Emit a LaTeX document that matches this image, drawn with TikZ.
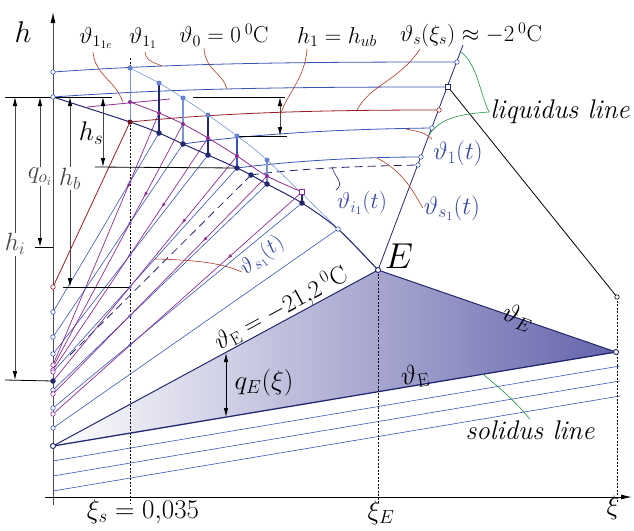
\RequirePackage{fix-cm}
\documentclass[tikz,border=0pt]{standalone}
\usepackage{amsmath,amssymb}
\usepackage{tikz}
\usetikzlibrary{arrows.meta,decorations.markings}
\definecolor{cblue}{RGB}{55,85,185}
\definecolor{clight}{RGB}{120,150,215}
\definecolor{cnavy}{RGB}{35,40,110}
\definecolor{cpurple}{RGB}{140,45,145}
\definecolor{cslate}{RGB}{105,90,170}
\definecolor{cred}{RGB}{155,30,35}
\definecolor{cbrown}{RGB}{175,60,35}
\definecolor{cgreen}{RGB}{30,150,70}
\definecolor{ctext}{RGB}{55,70,165}
\definecolor{cshade}{RGB}{100,100,172}
\tikzstyle{blueline} = [cblue, line width=0.6pt]
\tikzstyle{lightline} = [clight, line width=0.6pt]
\tikzstyle{navyline} = [cnavy, line width=1pt]
\tikzstyle{redline} = [cred, line width=0.8pt]
\tikzstyle{dashline} = [cnavy, line width=0.8pt, dash pattern=on 8pt off 5pt]
\tikzstyle{purline} = [cpurple, line width=0.7pt, postaction={decorate}, decoration={markings, mark=at position 0.3 with {\arrow{Latex[length=5pt,width=3.5pt]}}}]
\tikzstyle{dimline} = [gray!55!black, line width=0.8pt, {Latex[length=9pt,width=4.5pt,color=black]}-{Latex[length=9pt,width=4.5pt,color=black]}]
\tikzstyle{refline} = [black, line width=0.8pt]
\tikzstyle{guide} = [black, line width=0.5pt, dash pattern=on 2pt off 1.5pt]
\tikzstyle{leader} = [cbrown, line width=0.6pt]
\tikzstyle{gleader} = [cgreen, line width=0.6pt]
\tikzstyle{lbl} = [font=\fontsize{23}{26}\selectfont, inner sep=1pt]
\tikzstyle{biglbl} = [font=\fontsize{27}{30}\selectfont, inner sep=1pt]
\tikzstyle{dimlbl} = [font=\fontsize{25}{28}\selectfont, inner sep=1pt, fill=white]
\tikzstyle{txtlbl} = [font=\fontsize{27}{30}\selectfont\itshape, inner sep=1pt]
\tikzstyle{bluelbl} = [lbl, text=ctext]
\tikzstyle{ring} = [circle, draw=cblue, fill=white, inner sep=0pt, minimum size=4.5pt, line width=0.6pt]
\tikzstyle{redring} = [ring, draw=cred]
\tikzstyle{purring} = [ring, draw=cpurple]
\tikzstyle{navyring} = [ring, draw=cnavy, line width=0.9pt, minimum size=5pt]
\tikzstyle{blackring} = [ring, draw=black]
\tikzstyle{navydot} = [circle, fill=cnavy, inner sep=0pt, minimum size=5.5pt]
\tikzstyle{purdot} = [circle, fill=cpurple, inner sep=0pt, minimum size=4pt]
\tikzstyle{lightdot} = [circle, fill=clight!70!cblue, inner sep=0pt, minimum size=5pt]
\tikzstyle{slatedot} = [circle, fill=cslate, inner sep=0pt, minimum size=3.5pt]
\tikzstyle{sqmark} = [rectangle, draw=cnavy, fill=white, inner sep=0pt, minimum size=5pt, line width=0.9pt]
\begin{document}
\begin{tikzpicture}[x=1pt, y=-1pt]
\useasboundingbox (0,0) rectangle (634,530);
% points on the h axis
\coordinate (a1) at (53,72);
\coordinate (a0) at (53,97);
\coordinate (ar) at (53,287);
\coordinate (a2) at (53,312);
\coordinate (a3) at (53,337);
\coordinate (a4) at (53,354);
\coordinate (c1) at (53,365);
\coordinate (c1b) at (53,367);
\coordinate (c2) at (53,370);
\coordinate (c3) at (53,372);
\coordinate (ai) at (53,381);
\coordinate (a6) at (53,390);
\coordinate (a6p) at (53,394);
\coordinate (a7) at (53,408);
\coordinate (a7p) at (53,414);
\coordinate (a8) at (53,428);
\coordinate (s0) at (53,446);
% front points
\coordinate (L1) at (130,68);  \coordinate (P1) at (130,102); \coordinate (D1) at (130,122);
\coordinate (L2) at (159,83);  \coordinate (P2) at (159,113); \coordinate (D2) at (159,133);
\coordinate (L3) at (183,98);  \coordinate (P3) at (183,124); \coordinate (D3) at (183,144);
\coordinate (L4) at (208,115); \coordinate (P4) at (208,138); \coordinate (D4) at (208,155);
\coordinate (L5) at (237,136); \coordinate (P5) at (237,156); \coordinate (D5) at (237,168);
\coordinate (L6) at (267,160); \coordinate (P6) at (267,176); \coordinate (D6) at (267,184);
\coordinate (P7) at (302,192); \coordinate (D7) at (302,203);
\coordinate (K) at (251,175);
\coordinate (kd) at (68,357);
\coordinate (M) at (338,229);
\coordinate (E) at (378,270);
\coordinate (pa) at (87,107);
\coordinate (pb) at (170,99);
% liquidus line
\coordinate (T0) at (463,45);
\coordinate (T1) at (457,62);
\coordinate (T2) at (448,87);
\coordinate (T3) at (439,110);
\coordinate (T4) at (432,128);
\coordinate (T5) at (421,157);
\coordinate (T6) at (418,165);
\coordinate (R) at (617,297);
\coordinate (S) at (616,352);
% solidus and lines below
\coordinate (b1l) at (53,461); \coordinate (b1r) at (620,366);
\coordinate (b2l) at (53,476); \coordinate (b2r) at (620,381);
\coordinate (b3l) at (53,491); \coordinate (b3r) at (620,396);
% axes
\coordinate (hb) at (53,505); \coordinate (ht) at (53,12);
\coordinate (xl) at (45,497); \coordinate (xr) at (632,497);
\coordinate (g1t) at (130,58); \coordinate (g1b) at (130,503);
\coordinate (g2b) at (378,503);
\coordinate (g3b) at (617,503);
% marks on xi_s
\coordinate (x1) at (130,182); \coordinate (x2) at (130,223); \coordinate (x3) at (130,255);
\coordinate (x4) at (130,287); \coordinate (x5) at (130,316); \coordinate (x6) at (130,345);

% eutectic triangle
\shade[left color=white, right color=cshade] (s0) -- (E) -- (S) -- cycle;
\draw[blueline] (b1l) -- (b1r);
\draw[blueline] (b2l) -- (b2r);
\draw[blueline] (b3l) -- (b3r);
\draw[navyline] (s0) -- (E) -- (S);
\draw[navyline, line width=1.3pt] (s0) -- (S);

\draw[guide] (g1t) -- (g1b);
\draw[guide] (E) -- (g2b);
\draw[guide] (R) -- (g3b);
\draw[gray!60!black, line width=0.9pt, -{Latex[length=11pt,width=5pt,color=black]}] (hb) -- (ht);
\draw[black, line width=0.9pt, -{Latex[length=11pt,width=5pt]}] (xl) -- (xr);

% fan of characteristics
\draw[redline] (ar) -- (D1);
\draw[blueline] (a2) -- (D2);
\draw[blueline] (a3) -- (D3);
\draw[blueline] (a4) -- (D4);
\draw[blueline] (c3) -- (D5);
\draw[blueline] (a6) -- (D6);
\draw[blueline] (a7) -- (D7);
\draw[blueline] (a8) -- (M);
\draw[purline] (P2) -- (c1);
\draw[purline] (P3) -- (c1b);
\draw[purline] (P4) -- (c2);
\draw[purline] (P5) -- (ai);
\draw[purline] (P6) -- (a6p);
\draw[purline] (P7) -- (a7p);

% isotherms
\draw[blueline, line width=0.8pt] (a1) .. controls (180,63) and (300,62) .. (T1);
\draw[blueline, line width=0.8pt] (a0) .. controls (180,88) and (300,87) .. (T2);
\draw[redline] (D1) .. controls (230,112) and (330,110) .. (T3);
\draw[blueline, line width=0.8pt] (D3) .. controls (260,133) and (350,129) .. (T4);
\draw[blueline, line width=0.8pt] (D5) .. controls (300,160) and (370,157) .. (T5);
\draw[dashline] (K) .. controls (300,168) and (370,166) .. (T6);
\draw[dashline] (K) -- (kd);
\draw[navyline, line width=0.8pt] (T0) -- (E);
\draw[black, line width=0.8pt] (T2) -- (R);

% fronts
\draw[cpurple, line width=0.8pt] (pa) -- (pb);
\draw[lightline] plot[smooth] coordinates {(L1) (L2) (L3) (L4) (L5) (L6) (M) (E)};
\draw[cpurple, line width=0.8pt] plot[smooth] coordinates {(P1) (P2) (P3) (P4) (P5) (P6) (P7)};
\draw[navyline] plot[smooth, tension=0.5] coordinates {(a0) (D1) (D2) (D3) (D4) (D5) (K) (D6) (D7) (M) (E)};
\draw[clight, line width=1pt] (L1) -- (D1);
\draw[cnavy, line width=1.6pt] (L2) -- (D2);
\draw[clight, line width=1.2pt] (L3) -- (D3);
\draw[cnavy, line width=1.6pt] (L4) -- (D4);
\draw[cblue, line width=1.2pt] (L5) -- (D5);
\draw[clight, line width=1.2pt] (L6) -- (D6);
\draw[cnavy, line width=1.4pt] (P7) -- (D7);

% dimensions
\coordinate (dl0) at (5,97);  \coordinate (dl1) at (112,97);
\coordinate (dl2) at (5,380); \coordinate (dl3) at (35,247);
\coordinate (dl4) at (63,287); \coordinate (dl5) at (95,167);
\coordinate (dl6) at (193,97); \coordinate (dl7) at (285,97);
\coordinate (dl8) at (287,136);
\draw[refline] (dl0) -- (dl1);
\draw[refline] (dl2) -- (ai);
\draw[refline] (dl3) -- (53,247);
\draw[refline] (dl4) -- (x4);
\draw[refline] (dl5) -- (D5);
\draw[refline] (dl6) -- (dl7);
\draw[refline] (L5) -- (dl8);
\draw[dimline] (15,97) -- node[pos=0.52, dimlbl] {$h_i$} (15,380);
\draw[dimline] (40,97) -- node[pos=0.53, dimlbl] {$q_{o_i}$} (40,247);
\draw[dimline] (70,97) -- node[pos=0.43, dimlbl] {$h_b$} (70,287);
\draw[dimline] (103,97) -- (103,167);
\draw[dimline] (280,97) -- (280,136);
\draw[black, line width=0.8pt, {Latex[length=9pt,width=4.5pt]}-{Latex[length=9pt,width=4.5pt]}] (226,353) -- (226,417);

% markers
\foreach \p in {a1,a0,a2,a3,a4,a6,a7,a8,T1,T4,T5,T6,M}
  \node[ring] (m\p) at (\p) {};
\foreach \p in {c1,c2,c3,a6p,a7p}
  \node[purring] (m\p) at (\p) {};
\foreach \p in {ar,T3}
  \node[redring] (m\p) at (\p) {};
\foreach \p in {D2,D3,D4,D5,D6,D7,K,ai}
  \node[navydot] (m\p) at (\p) {};
\foreach \p in {P1,P2,P3,P4,P5,P6}
  \node[purdot] (m\p) at (\p) {};
\foreach \p in {L1,L2,L3,L4,L5,L6}
  \node[lightdot] (m\p) at (\p) {};
\foreach \p in {x1,x2,x3,x4,x5,x6}
  \node[slatedot] (m\p) at (\p) {};
\node[circle, fill=cred!70!black, inner sep=0pt, minimum size=5pt] (mD1) at (D1) {};
\node[sqmark, draw=cpurple] (mP7) at (P7) {};
\node[sqmark] (mT2) at (T2) {};
\node[navyring] (mE) at (E) {};
\node[navyring] (mS) at (S) {};
\node[navyring] (ms0) at (s0) {};
\node[blackring] (mR) at (R) {};

% labels
\node[lbl, font=\fontsize{30}{32}\selectfont] (hlab) at (23,32) {$h$};
\node[lbl] (l11e) at (96,38) {$\vartheta_{1_{1e}}$};
\node[lbl] (l11) at (143,38) {$\vartheta_{1_1}$};
\node[lbl] (l0) at (224,35) {$\vartheta_0=0\,{}^0\mathrm{C}$};
\node[lbl] (lh1) at (337,37) {$h_1=h_{ub}$};
\node[lbl] (ls) at (471,35) {$\vartheta_s(\xi_s)\approx-2\,{}^0\mathrm{C}$};
\node[txtlbl] (lliq) at (560,112) {liquidus line};
\node[bluelbl, font=\fontsize{25}{28}\selectfont] (lt1) at (458,153) {$\vartheta_1(t)$};
\node[bluelbl, font=\fontsize{25}{28}\selectfont] (lts) at (452,208) {$\vartheta_{s_1}(t)$};
\node[bluelbl] (lti) at (362,203) {$\vartheta_{i_1}(t)$};
\node[bluelbl, rotate=38, font=\fontsize{22}{24}\selectfont] (ltm) at (262,256) {$\vartheta_{s_1}(t)$};
\node[biglbl] (lhs) at (91,133) {$h_s$};
\node[lbl, font=\fontsize{36}{38}\selectfont] (Elab) at (399,256) {$E$};
\path (s0) -- node[pos=0.72, sloped, above, lbl, font=\fontsize{25}{28}\selectfont, inner sep=0pt] (leut) {$\vartheta_{\mathrm{E}}=-21{,}2\,{}^0\mathrm{C}$} (E);
\node[biglbl, rotate=-19] (lER) at (518,318) {$\vartheta_E$};
\node[biglbl, rotate=9] (lEL) at (415,376) {$\vartheta_{\mathrm{E}}$};
\node[biglbl] (lq) at (264,383) {$q_E(\xi)$};
\node[txtlbl] (lsol) at (530,430) {solidus line};
\node[biglbl] (lxs) at (143,512) {$\xi_s=0{,}035$};
\node[biglbl] (lxE) at (381,513) {$\xi_E$};
\node[biglbl] (lx) at (613,508) {$\xi$};

% leaders
\coordinate (tq1) at (123,102);
\coordinate (tq2) at (162,66);
\coordinate (tq3) at (227,89);
\coordinate (tq4) at (280,117);
\coordinate (tq5) at (357,110);
\coordinate (tq6) at (461,52);
\coordinate (tq7) at (429,135);
\coordinate (tq8) at (406,129);
\coordinate (tq9) at (377,158);
\coordinate (tq10) at (332,167);
\coordinate (tq11) at (155,259);
\coordinate (tq12) at (483,374);
\draw[leader] (93,52) .. controls (95,75) and (115,80) .. (tq1);
\draw[leader] (145,52) .. controls (147,60) .. (tq2);
\draw[leader] (204,48) .. controls (205,70) and (222,72) .. (tq3);
\draw[leader] (307,49) .. controls (305,80) and (285,95) .. (tq4);
\draw[leader] (420,49) .. controls (400,80) and (370,85) .. (tq5);
\draw[gleader] (tq6) .. controls (478,65) and (480,95) .. (lliq.west);
\draw[gleader] (tq7) .. controls (440,118) and (460,114) .. (lliq.west);
\draw[leader] (tq8) .. controls (425,133) .. (lt1.north west);
\draw[leader] (tq9) .. controls (400,170) and (410,185) .. (lts.west);
\draw[cnavy, line width=0.6pt] (tq10) .. controls (335,178) and (345,183) .. (lti.north west);
\draw[leader] (tq11) .. controls (200,260) and (225,264) .. (ltm.west);
\draw[gleader] (tq12) .. controls (495,385) and (510,395) .. (lsol.north);
\end{tikzpicture}
\end{document}
